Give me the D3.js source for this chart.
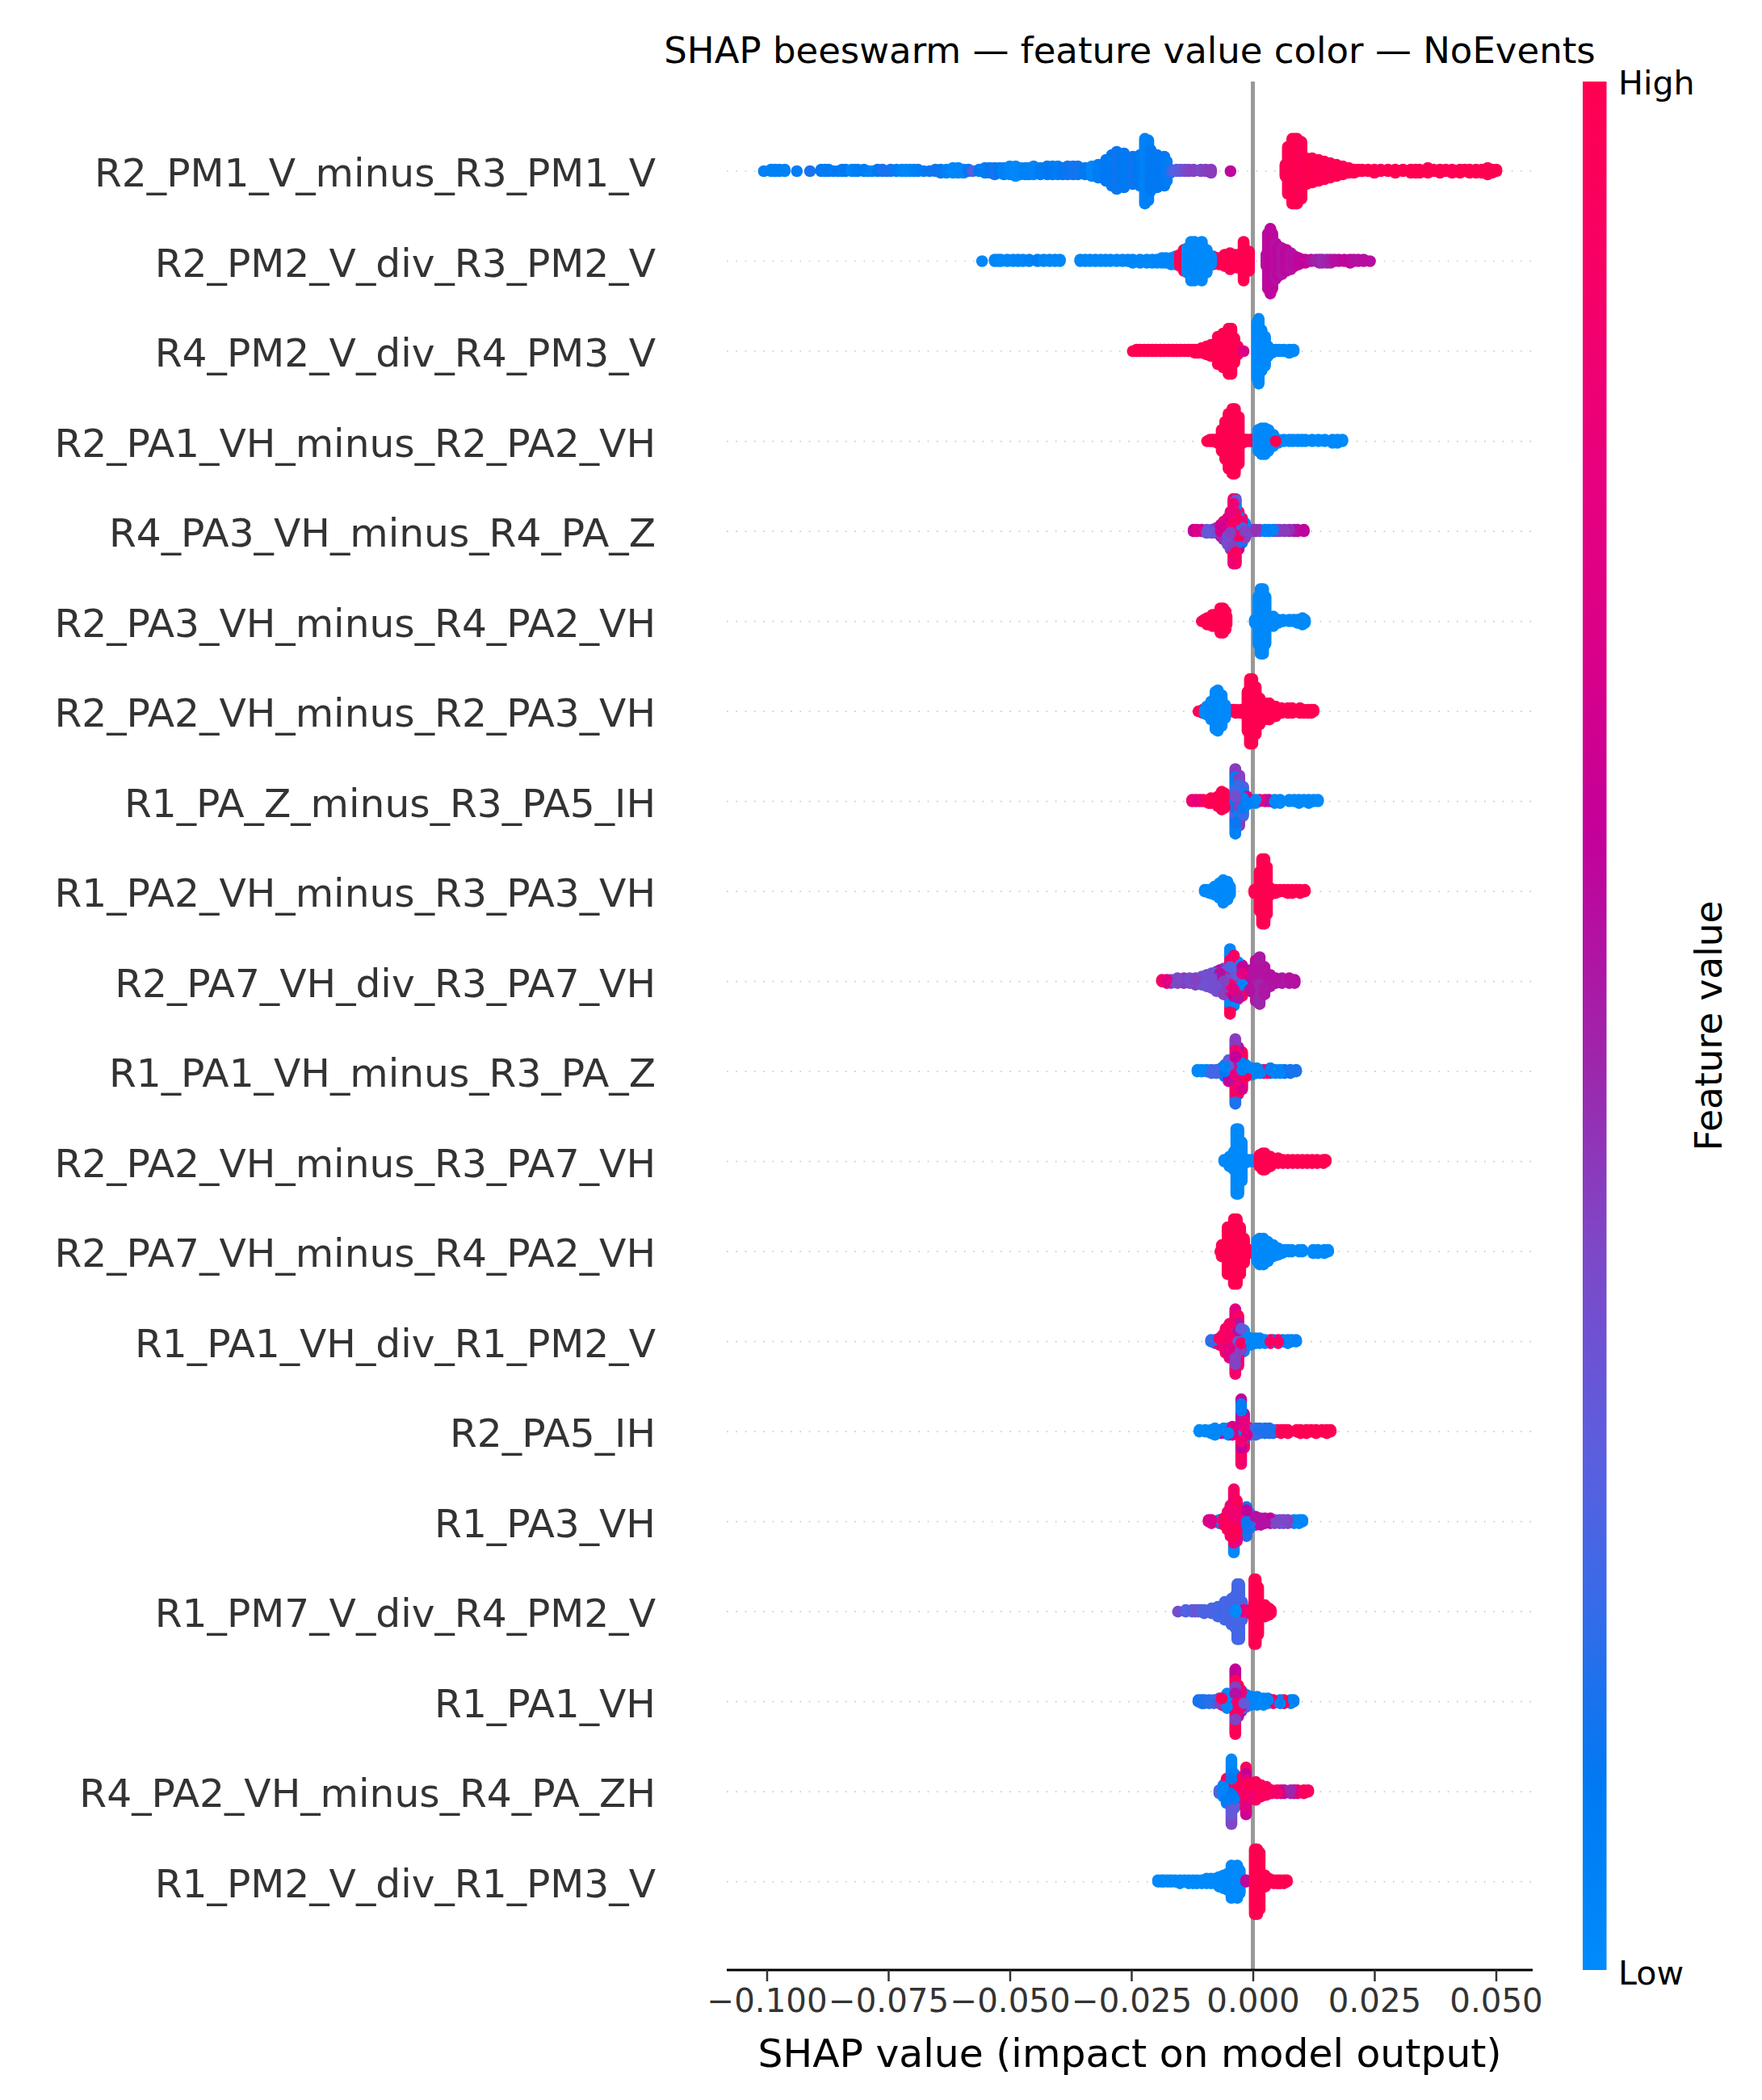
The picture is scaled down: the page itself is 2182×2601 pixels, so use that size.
<!DOCTYPE html>
<html>
<head>
<meta charset="utf-8">
<script src="https://cdn.jsdelivr.net/npm/d3@7"></script>
<style>
  html, body { margin: 0; background: #fff; }
  text { font-family: "DejaVu Sans", sans-serif; }
</style>
</head>
<body>
<svg id="chart" width="2182" height="2601"></svg>
<script>
const features = [
  'R2_PM1_V_minus_R3_PM1_V', 'R2_PM2_V_div_R3_PM2_V', 'R4_PM2_V_div_R4_PM3_V', 'R2_PA1_VH_minus_R2_PA2_VH',
  'R4_PA3_VH_minus_R4_PA_Z', 'R2_PA3_VH_minus_R4_PA2_VH', 'R2_PA2_VH_minus_R2_PA3_VH', 'R1_PA_Z_minus_R3_PA5_IH',
  'R1_PA2_VH_minus_R3_PA3_VH', 'R2_PA7_VH_div_R3_PA7_VH', 'R1_PA1_VH_minus_R3_PA_Z', 'R2_PA2_VH_minus_R3_PA7_VH',
  'R2_PA7_VH_minus_R4_PA2_VH', 'R1_PA1_VH_div_R1_PM2_V', 'R2_PA5_IH', 'R1_PA3_VH',
  'R1_PM7_V_div_R4_PM2_V', 'R1_PA1_VH', 'R4_PA2_VH_minus_R4_PA_ZH', 'R1_PM2_V_div_R1_PM3_V'
]
const xTicks = [-0.1, -0.075, -0.05, -0.025, 0, 0.025, 0.05]

// colorbar, low to high
const colorPos = [0, 0.1, 0.2, 0.27, 0.38, 0.487, 0.6, 0.7, 0.79, 0.9, 1]
const colorVal = ['#008bfb', '#0079f3', '#3a6ae8', '#5a5fe0', '#7d48c8', '#a024aa', '#c4009a', '#da0088', '#e8007f', '#f70066', '#ff0051']

// each entry: shap value, points stacked there, feature value (0-1), feature value of the lower half if it differs
const swarm00 = [[-.1006,1,.06],[-.0991,2,.05],[-.0983,2,.06],[-.0974,2,.06],[-.0963,2,.05],[-.0938,1,.07],[-.0911,1,.14],[-.0888,2,.1],[-.088,2,.08],[-.0873,2,.09],[-.0863,1,.08],[-.0853,1,.1],[-.0845,2,.08],[-.0838,2,.1],[-.0825,2,.03],[-.0819,2,.05],[-.0813,2,.07],[-.08,2,.08],[-.0791,1,.06],[-.0783,1,.04],[-.0772,2,.1],[-.0762,2,.14],[-.0753,1,.14],[-.0745,2,.14],[-.0733,2,.08],[-.0722,2,.04],[-.0713,2,.02],[-.0705,2,.02],[-.0697,2,.05],[-.0689,2,.06],[-.0677,1,.08],[-.0665,1,.12],[-.0653,2,.12],[-.0642,3,.12],[-.063,3,.05],[-.0617,4,.02],[-.0606,4,.03],[-.0595,3,.03],[-.0585,2,.12],[-.0576,1,.25],[-.0563,2,.1],[-.0551,4,.08],[-.0541,4,.1],[-.0531,5,.14],[-.0521,4,.1],[-.0512,5,.05],[-.05,6,.03],[-.0488,7,.01],[-.0478,5,.03],[-.0468,5,.06],[-.046,5,.05],[-.0451,6,.04],[-.0437,5,.08],[-.0423,6,.1],[-.0412,6,.1],[-.0401,6,.08],[-.0391,5,.1],[-.0381,6,.12],[-.037,6,.13],[-.036,6,.13],[-.0345,5,.1],[-.0331,7,.03],[-.0318,9,.08],[-.0302,14,.1],[-.029,20,.1],[-.028,24,.12],[-.0265,22,.1],[-.0247,18,.12],[-.0232,20,.1],[-.0222,41,.05],[-.0215,38,.06],[-.021,26,.1],[-.0197,21,.1],[-.0182,19,.1],[-.0177,13,.08],[-.017,3,.15],[-.0165,1,.22],[-.0157,2,.27],[-.0149,2,.3],[-.014,2,.34],[-.0132,2,.38],[-.0122,2,.4],[-.0107,2,.38],[-.0097,2,.4],[-.0086,3,.42],[-.0046,1,.58],
  [.0067,8,.98],[.0072,30,.98],[.0081,41,1],[.0086,41,1],[.0091,41,1],[.01,36,.98],[.011,17,1],[.0122,16,1],[.0135,14,.98],[.0147,12,1],[.0159,10,.98],[.0172,8,1],[.0185,6,.98],[.0197,4,1],[.0208,3,1],[.0217,2,1],[.0225,2,1],[.0237,2,1],[.025,3,1],[.0263,2,.98],[.0278,2,1],[.0293,3,1],[.0309,2,1],[.0325,3,1],[.0335,3,1],[.0343,3,1],[.036,4,1],[.0372,2,1],[.0385,3,1],[.0397,2,1],[.041,3,.98],[.0426,3,1],[.0436,2,1],[.0446,3,1],[.0459,3,1],[.0471,3,1],[.0483,5,1],[.0492,3,1],[.0501,2,1]]
const swarm01 = [[-.0557,1,.02],[-.0531,2,.02],[-.0524,2,.02],[-.0518,2,.01],[-.0505,2,.02],[-.0493,2,.02],[-.0483,2,.03],[-.0473,2,.03],[-.046,2,.05],[-.0443,2,.07],[-.043,2,.03],[-.0418,2,.02],[-.0407,2,.02],[-.0397,2,.02],[-.0355,2,.02],[-.0345,2,.02],[-.0335,2,.02],[-.0324,2,.02],[-.0313,2,.02],[-.0303,2,.02],[-.0293,2,.02],[-.028,2,.02],[-.0268,2,.02],[-.0257,2,.03],[-.0247,3,.03],[-.0232,3,.02],[-.0218,3,.02],[-.0207,3,.02],[-.0197,3,.03],[-.0187,4,.03],[-.0179,4,.03],[-.0168,5,.03],[-.0159,6,.02],[-.015,8,1],[-.0142,14,1],[-.0082,6,1],[-.0076,4,1],[-.0069,5,1],[-.0058,8,1],[-.0047,11,1],[-.004,8,1],[-.0032,9,1],[-.0019,25,1],[-.0008,13,1],[-.0135,16,.01],[-.0127,25,.01],[-.012,25,.01],[-.0105,25,.01],[-.0095,15,.01],[-.0086,6,.01],
  [.0028,8,.56],[.0031,35,.56],[.0036,41,.58],[.004,35,.58],[.0047,23,.55],[.0053,19,.58],[.006,17,.54],[.0069,14,.58],[.0078,11,.55],[.0086,7,.56],[.0094,5,.58],[.0101,3,.58],[.0108,3,.6],[.012,2,.55],[.013,2,.5],[.0137,3,.5],[.0143,3,.47],[.0152,3,.48],[.016,3,.5],[.0168,2,.55],[.0177,2,.56],[.0188,2,.58],[.02,3,.58],[.0208,2,.56],[.0217,2,.55],[.0228,2,.56],[.0241,1,.56]]
const swarm02 = [[-.0247,1,1],[-.0239,2,1],[-.0232,2,1],[-.0223,2,1],[-.0215,2,.98],[-.0207,2,1],[-.0199,2,1],[-.019,2,1],[-.0182,2,1],[-.0173,2,1],[-.0165,2,1],[-.0157,2,1],[-.0149,2,1],[-.014,2,1],[-.0132,2,.98],[-.0125,2,1],[-.0119,3,1],[-.0112,3,1],[-.0105,4,1],[-.0095,6,1],[-.0086,8,1],[-.0072,18,1],[-.0061,22,1],[-.005,29,1],[-.0044,29,1],[-.0038,16,1],[-.0031,6,1],[-.0019,1,.72],
  [.0009,36,.01],[.0012,41,.01],[.0018,26,.01],[.0025,19,.01],[.0031,7,.01],[.0039,3,.01],[.0047,2,.01],[.0055,2,.01],[.0064,2,.01],[.0075,3,.01],[.0084,2,.01]]
const swarm03 = [[-.0094,1,1],[-.0088,2,1],[-.0083,2,1],[-.0078,2,1],[-.0073,3,1],[-.0064,14,1],[-.0057,24,1],[-.005,35,1],[-.0042,41,1],[-.0037,41,1],[-.0029,30,1],[-.0021,3,1],[-.0016,2,1],[-.0012,2,1],[-.0006,2,1],[-.0002,2,1],
  [.0011,14,.01],[.0018,17,.01],[.0025,17,.01],[.0032,14,.01],[.0042,8,.01],[.0052,3,.01],[.0064,2,.01],[.0075,2,.01],[.0083,2,.01],[.0092,2,.01],[.01,2,.01],[.0108,2,.01],[.0122,2,.01],[.0135,2,.01],[.0148,2,.01],[.0164,3,.01],[.0174,3,.01],[.0184,2,.01],[.0047,1,1]]
const swarm04 = [[-.0122,2,.62],[-.0115,2,.72],[-.0105,2,.68],[-.0095,3,.3],[-.0085,3,.33],[-.0075,4,.45],[-.0066,8,.65],[-.006,12,.85,.45],[-.0052,17,.6,.35],[-.0046,24,.8,.4],
  [-.004,12,.9,.55],[-.004,6,.85,.3],[-.004,8,.12,.4],[-.004,6,.88,.95],[-.004,9,.85,.82],
  [-.0035,12,.1,.85],[-.0035,10,.9,.4],[-.0035,10,.05,.95],[-.0035,9,.3,.88],
  [-.0029,8,.6,.9],[-.0029,10,.05,.15],[-.0029,6,.85,.6],[-.0022,10,.2,.55],[-.0022,6,.85,.1],[-.0016,10,.05,.4],
  [-.001,3,.3],[-.0002,2,.42],[.0006,2,.45],[.0014,2,.4],[.0025,2,.05],[.0033,2,.05],[.0042,2,.05],[.0048,2,.38],[.0055,2,.4],[.0065,2,.42],[.0075,2,.45],[.0085,2,.5],[.0092,2,.55],[.0105,2,.58]]
const swarm05 = [[-.0105,1,1],[-.01,2,1],[-.0094,5,1],[-.0083,8,1],[-.0071,10,1],[-.0067,16,1],[-.0061,16,1],[-.0056,12,1],[-.0054,6,1],
  [.0004,3,.01],[.0011,30,.01],[.0016,41,.01],[.0021,41,.01],[.0026,30,.01],[.0042,7,.01],[.0052,3,.01],[.0062,2,.01],[.0075,2,.01],[.0084,2,.01],[.0092,3,.01],[.0102,5,.01],[.0107,3,.01]]
const swarm06 = [[-.0112,1,1],[-.0103,3,.98],[-.005,2,1],[-.0045,2,1],[-.004,2,1],[-.0035,3,1],[-.0025,3,1],[-.0011,25,1],[-.0006,41,1],[-.0001,41,1],[.0006,30,1],[.0014,17,1],[.0025,11,1],[.0034,11,1],[.0047,7,1],[.0059,4,1],[.0072,4,1],[.0081,4,1],[.0097,4,1],[.0105,3,1],[.0114,3,1],[.012,3,1],[.0125,2,1],
  [-.0099,3,.01],[-.0095,6,.01],[-.0086,12,.01],[-.0077,24,.01],[-.0072,26,.01],[-.0064,20,.01],[-.0057,9,.01]]
const swarm07 = [[-.0125,2,.85],[-.0117,2,.82],[-.0109,2,.85],[-.0102,2,.95],[-.0091,3,.98],[-.0086,4,1],[-.0072,7,1],[-.0064,12,1],[-.0058,10,.98],[-.0048,6,.9,.7],
  [-.0036,10,.35,.1],[-.0036,10,.22,.3],[-.0036,10,.08,.12],[-.0036,11,.42,.05],
  [-.0028,12,.55,.4],[-.0028,10,.2,.05],[-.0028,10,.4,.42],[-.002,12,.05,.08],[-.002,7,.3,.2],[-.0012,6,.7,.05],[-.0004,3,.05],[.0006,3,.03],[.0014,2,.8],[.0025,2,.75],[.0033,2,.55],[.0045,3,.02],[.0056,3,.01],[.0075,2,.01],[.0085,2,.01],[.0095,3,.01],[.0105,2,.01],[.0115,3,.01],[.0125,2,.01],[.0134,2,.01]]
const swarm08 = [[-.0099,2,.01],[-.0094,2,.01],[-.0089,3,.01],[-.0079,6,.01],[-.0069,10,.01],[-.0061,15,.01],[-.0052,12,.01],[-.0047,6,.01],
  [.0003,3,1],[.0014,25,1],[.0019,41,1],[.0024,41,1],[.0029,30,1],[.0036,5,1],[.0047,3,1],[.0056,2,1],[.0064,2,1],[.0072,3,1],[.0081,3,1],[.0089,2,1],[.0097,3,1],[.0107,2,1]]
const swarm09 = [[-.0187,2,.9],[-.0177,3,.75],[-.0168,3,.35],[-.0155,4,.38],[-.0142,4,.42],[-.013,4,.36],[-.0118,5,.4],[-.0105,6,.33],[-.0095,8,.35],[-.0085,10,.35],[-.0075,13,.3,.35],[-.0068,14,.55,.35],[-.006,17,.3,.4],
  [-.0047,9,.85,.9],[-.0047,10,.25,.85],[-.0047,10,.9,.02],[-.0047,12,.03,.98],
  [-.0039,12,.35,.75],[-.0039,10,.05,.6],[-.0039,10,.9,.02],[-.0031,14,.3,.8],[-.0031,10,.02,.55],[-.0022,12,.75,.03],[-.0022,8,.6,.9],
  [-.0006,14,.55,.55],[.0006,26,.55,.52],[.0014,30,.53,.48],[.0024,18,.55,.53],[.0036,8,.53],[.0047,4,.55],[.006,4,.52],[.0075,4,.55],[.0086,3,.55]]
const swarm10 = [[-.0114,2,.02],[-.0105,2,.02],[-.0095,2,.02],[-.0085,3,.22],[-.0075,3,.25],[-.0065,4,.08],[-.0058,8,.05,.1],[-.005,14,.3,.6],
  [-.0036,10,.45,.8],[-.0036,10,.6,.55],[-.0036,10,.85,.9],[-.0036,11,.42,.15],
  [-.003,12,.75,.4],[-.003,8,.1,.85],[-.003,10,.55,.95],[-.0022,16,.05,.9],[-.0022,8,.95,.7],[-.0014,8,.03,.98],
  [-.0002,5,.03],[.0008,4,.04],[.0015,3,.04],[.0022,3,.95],[.003,3,.9],[.0036,4,.06],[.0046,3,.05],[.0056,3,.03],[.0065,3,.12],[.0077,3,.14],[.0089,2,.15]]
const swarm11 = [[-.0059,2,.01],[-.0048,7,.01],[-.0039,12,.01],[-.0034,41,.01],[-.003,41,.01],[-.0023,25,.01],[-.0016,3,.01],[-.0009,2,.01],[-.0002,2,.01],[.0004,2,.01],[.0009,2,.01],
  [.0014,8,1],[.002,11,1],[.0025,11,1],[.0036,7,1],[.0052,4,1],[.0062,3,1],[.0072,3,1],[.0082,3,1],[.0092,3,1],[.0102,3,1],[.0112,3,1],[.0122,3,1],[.0132,3,1],[.0145,3,1],[.015,2,1]]
const swarm12 = [[-.0067,1,1],[-.0064,8,1],[-.0052,30,1],[-.0044,30,1],[-.0039,41,1],[-.0033,41,1],[-.0026,30,1],[-.0018,16,1],[-.0008,3,1],
  [.0009,14,.01],[.0014,17,.01],[.0022,17,.01],[.0031,13,.01],[.0042,8,.01],[.0052,5,.01],[.006,3,.01],[.0067,2,.01],[.0074,2,.01],[.008,2,.01],[.0095,2,.01],[.0102,2,.01],[.0124,3,.01],[.0134,3,.01],[.0147,3,.01],[.0155,2,.01]]
const swarm13 = [[-.0086,2,.18],[-.0078,3,.2],[-.0069,5,.92],[-.0062,8,.85],[-.0056,16,.9,.85],[-.0048,22,.9,.75],
  [-.0036,10,.9,.25],[-.0036,10,.2,.85],[-.0036,11,.85,.4],[-.0036,10,.78,.88],
  [-.003,12,.8,.3],[-.003,12,.55,.95],[-.003,8,.95,.85],[-.0024,10,.85,.9],[-.0024,6,.3,.4],[-.0018,14,.02,.02],[-.0012,6,.02,.02],[-.0004,5,.02],[.0006,4,.03],[.0014,4,.02],[.0025,3,.02],[.0036,3,.92],[.0042,2,.02],[.0052,3,.92],[.0062,2,.05],[.0072,3,.05],[.008,2,.04],[.0089,2,.04]]
const swarm14 = [[-.011,2,.01],[-.0098,2,.01],[-.0086,3,.02],[-.0078,5,.02],[-.0066,3,.55],[-.006,4,.04],[-.005,5,.03],[-.0042,6,.7],
  [-.0024,14,.62,.85],[-.0024,10,.58,.6],[-.0024,10,.08,.92],[-.0024,7,.6,.88],
  [-.0018,14,.8,.06],[-.0018,8,.55,.9],[-.0012,6,.95,.7],[-.0006,5,.25,.2],[.0006,5,.2],[.0014,4,.15],[.0025,4,.16],[.0034,4,.15],[.0042,3,.18],[.005,2,.95],[.0058,3,.98],[.0065,2,.98],[.0072,3,.98],[.009,2,1],[.0098,3,1],[.011,3,1],[.012,2,1],[.013,3,1],[.0142,2,1],[.0152,3,1],[.016,2,1]]
const swarm15 = [[-.0091,2,.72],[-.0085,3,.7],[-.0069,3,.04],[-.006,5,.95],[-.0052,12,.9,.95],[-.0046,20,.85,.9],
  [-.0039,10,.85,.9],[-.0039,10,.95,.98],[-.0039,10,.75,.85],[-.0039,10,.9,.02],
  [-.0033,16,.9,.95],[-.0033,10,.95,.8],[-.0026,14,.85,.9],[-.0018,6,.75,.03],[-.0013,14,.6,.12],[-.0013,5,.12,.15],[-.0006,10,.2,.16],[.0006,6,.55],[.0016,5,.55],[.0025,4,.55],[.0036,4,.6],[.0045,3,.38],[.0055,3,.32],[.0063,3,.38],[.0072,3,.4],[.0085,3,.02],[.0095,3,.03],[.0102,2,.03]]
const swarm16 = [[-.0154,1,.35],[-.0138,2,.25],[-.0125,2,.24],[-.0118,2,.3],[-.0112,2,.33],[-.0106,2,.28],[-.01,3,.24],[-.0085,4,.24],[-.0072,7,.22],[-.0058,12,.22],[-.0044,17,.23],[-.0036,21,.22],[-.0032,35,.22],[-.0028,35,.22],[-.0022,12,.23],[-.0019,2,.75],[-.0007,3,.85],
  [-.0035,2,0],[.0003,41,1],[.0006,41,1],[.0011,30,1],[.0025,8,1],[.0033,5,1],[.0037,3,1]]
const swarm17 = [[-.0112,2,.14],[-.0105,3,.14],[-.01,3,.15],[-.009,3,.17],[-.008,3,.2],[-.0069,4,.4],[-.0064,5,.96],[-.0053,10,.03],
  [-.0036,10,.55,.85],[-.0036,10,.4,.95],[-.0036,10,.95,.4],[-.0036,11,.6,.98],
  [-.003,12,.5,.9],[-.003,8,.98,.55],[-.0024,14,.85,.6],[-.0018,10,.05,.3],[-.0012,8,.03,.04],[-.0002,6,.03],[.0009,6,.02],[.0022,5,.02],[.0031,4,.04],[.0042,3,.9],[.0056,3,.05],[.0064,3,.98],[.0078,3,.05],[.0084,2,.05]]
const swarm18 = [[-.0069,3,.25],[-.0061,8,.03],[-.0054,16,.95,.08],
  [-.0044,10,.9,.1],[-.0044,8,.1,.25],[-.0044,12,.05,.3],[-.0044,11,.01,.38],
  [-.0038,14,.95,.08],[-.0038,8,.02,.3],[-.003,18,.98,.25],[-.0018,18,.85,.9],
  [-.0014,8,.95,.6],[-.0014,8,.75,.7],[-.0014,8,.6,.75],[-.0014,6,.95,.65],[-.0008,12,.98,.85],[.0006,12,.95,.92],[.0017,8,1,.95],[.0028,6,.9],[.0039,3,.95],[.005,3,.88],[.0058,3,.7],[.0065,3,.5],[.0078,3,.48],[.0085,3,.75],[.0092,3,.92],[.0105,3,.95],[.0114,2,.92]]
const swarm19 = [[-.0195,2,.01],[-.0188,2,.01],[-.0183,2,.01],[-.0175,2,.01],[-.0168,2,.01],[-.016,2,.01],[-.015,3,.01],[-.0141,2,.01],[-.0132,3,.01],[-.0123,3,.01],[-.0115,3,.01],[-.0105,3,.01],[-.0095,4,.01],[-.0086,4,.01],[-.0078,4,.01],[-.0069,7,.01],[-.006,9,.01],[-.0052,11,.01],[-.0044,21,.01],[-.0032,21,.01],[-.0027,15,.01],[-.0014,2,.58],
  [.0004,41,1],[.0009,41,1],[.0014,36,1],[.0025,8,1],[.0033,4,1],[.0043,3,1],[.005,3,1],[.0056,3,1],[.0064,3,1],[.007,2,1]]

const rows = [swarm00, swarm01, swarm02, swarm03, swarm04, swarm05, swarm06, swarm07, swarm08, swarm09,
  swarm10, swarm11, swarm12, swarm13, swarm14, swarm15, swarm16, swarm17, swarm18, swarm19]
// rows where the colours are all mixed up in the drawing order
const speckled = [4, 7, 9, 10, 13, 14, 15, 17, 18]

const svg = d3.select('#chart')
const plot = { left: 900, right: 1898, top: 101, bottom: 2440 }

const xScale = d3.scaleLinear().domain([-0.10822, 0.05756]).range([plot.left, plot.right])
const yScale = d3.scalePoint().domain(features).range([212, 2330.7])
const colorScale = d3.scaleLinear().domain(colorPos).range(colorVal)
const rowHeight = (plot.bottom - plot.top) / 21

//dotted row guides
svg.append('g').selectAll('line')
  .data(features)
  .join('line')
  .attr('x1', plot.left)
  .attr('x2', plot.right)
  .attr('y1', (d) => yScale(d))
  .attr('y2', (d) => yScale(d))
  .attr('stroke', '#ccc')
  .attr('stroke-width', 1.7)
  .attr('stroke-dasharray', '1.7 9.6')

//zero line
svg.append('line')
  .attr('x1', xScale(0))
  .attr('x2', xScale(0))
  .attr('y1', plot.top)
  .attr('y2', plot.bottom)
  .attr('stroke', '#999999')
  .attr('stroke-width', 5)

//stack the points of each row like shap does: alternate above and below the guide
rows.forEach((row, r) => {
  const layers = new Map()
  const dots = []
  row.forEach(([shap, count, fval, fvalBelow]) => {
    for (let k = 0; k < count; k++) {
      const layer = layers.get(shap) || 0
      layers.set(shap, layer + 1)
      const side = layer % 2 ? -1 : 1
      dots.push({ shap, layer, side, fval: side < 0 || fvalBelow === undefined ? fval : fvalBelow })
    }
  })
  const maxLayer = d3.max(dots, (d) => d.layer)
  const step = (0.36 * rowHeight) / Math.ceil(maxLayer / 2)
  const ordered = speckled.includes(r)
    ? d3.sort(dots.map((d, i) => ({ ...d, key: (i * 0.6180339887) % 1 })), (d) => d.key)
    : dots

  svg.append('g').selectAll('circle')
    .data(ordered)
    .join('circle')
    .attr('cx', (d) => xScale(d.shap))
    .attr('cy', (d) => yScale(features[r]) + d.side * Math.ceil(d.layer / 2) * step)
    .attr('r', 7.3)
    .attr('fill', (d) => colorScale(d.fval))
})

//feature labels
svg.append('g').selectAll('text')
  .data(features)
  .join('text')
  .attr('x', 812)
  .attr('y', (d) => yScale(d) + 19)
  .attr('text-anchor', 'end')
  .attr('fill', '#333333')
  .style('font-size', '48.7px')
  .text((d) => d)

//x axis
const xAxis = svg.append('g')
  .attr('transform', `translate(0, ${plot.bottom})`)
  .call(d3.axisBottom(xScale).tickValues(xTicks).tickFormat(d3.format('.3f')).tickSize(14).tickPadding(9).tickSizeOuter(0))
xAxis.select('.domain').attr('stroke', '#000').attr('stroke-width', 3).attr('d', `M${plot.left},0H${plot.right}`)
xAxis.selectAll('.tick line').attr('stroke', '#333333').attr('stroke-width', 2.5)
xAxis.selectAll('.tick text').attr('fill', '#333333').style('font-size', '40.3px').style('font-family', '"DejaVu Sans"')

svg.append('text')
  .attr('x', (plot.left + plot.right) / 2)
  .attr('y', 2560)
  .attr('text-anchor', 'middle')
  .style('font-size', '48.8px')
  .text('SHAP value (impact on model output)')

svg.append('text')
  .attr('x', (plot.left + plot.right) / 2)
  .attr('y', 78)
  .attr('text-anchor', 'middle')
  .style('font-size', '45px')
  .text('SHAP beeswarm — feature value color — NoEvents')

//colorbar
const grad = svg.append('defs').append('linearGradient')
  .attr('id', 'featureGradient')
  .attr('x1', 0).attr('x2', 0).attr('y1', 1).attr('y2', 0)
grad.selectAll('stop')
  .data(colorPos)
  .join('stop')
  .attr('offset', (d) => d)
  .attr('stop-color', (d, i) => colorVal[i])

svg.append('rect')
  .attr('x', 1960)
  .attr('y', plot.top)
  .attr('width', 29.5)
  .attr('height', plot.bottom - plot.top)
  .attr('fill', 'url(#featureGradient)')

svg.append('text').attr('x', 2004).attr('y', 117).style('font-size', '41.2px').text('High')
svg.append('text').attr('x', 2004).attr('y', 2458).style('font-size', '41.2px').text('Low')
svg.append('text')
  .attr('transform', `translate(2132, ${(plot.top + plot.bottom) / 2}) rotate(-90)`)
  .attr('text-anchor', 'middle')
  .style('font-size', '45.4px')
  .text('Feature value')
</script>
</body>
</html>
